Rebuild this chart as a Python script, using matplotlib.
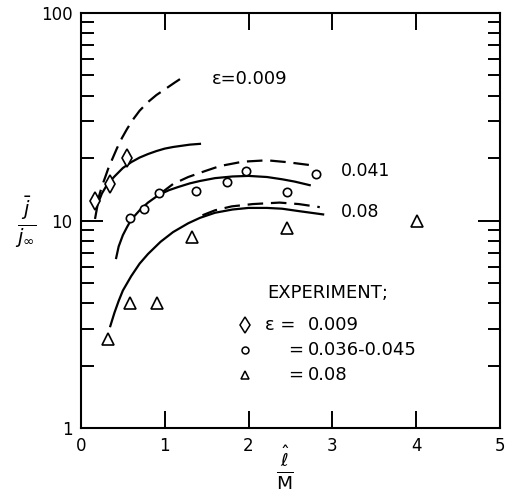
import numpy as np
import matplotlib
matplotlib.use('Agg')
import matplotlib.pyplot as plt
from matplotlib.ticker import LogLocator, NullFormatter, FixedLocator

# courbes théoriques
x_009_solid = [0.17, 0.20, 0.25, 0.30, 0.35, 0.40, 0.50, 0.60, 0.70, 0.80, 0.90, 1.00, 1.10, 1.20, 1.30, 1.42]
y_009_solid = [10.3, 12.0, 13.5, 14.6, 15.5, 16.3, 17.9, 19.1, 20.1, 20.9, 21.6, 22.2, 22.6, 22.9, 23.2, 23.4]
x_009_dash = [0.19, 0.22, 0.25, 0.29, 0.33, 0.37, 0.43, 0.49, 0.55, 0.62, 0.70, 0.80, 0.90, 1.00, 1.12, 1.24]
y_009_dash = [11.9, 13.3, 14.6, 16.2, 18.0, 19.6, 22.3, 25.0, 27.6, 30.6, 33.8, 37.2, 40.2, 42.8, 46.2, 49.7]

x_041_solid = [0.42, 0.45, 0.50, 0.55, 0.60, 0.70, 0.80, 0.93, 1.05, 1.16, 1.30, 1.42, 1.60, 1.81, 2.00, 2.22, 2.40, 2.55, 2.73]
y_041_solid = [6.6, 7.5, 8.5, 9.3, 10.1, 11.2, 12.2, 13.3, 14.0, 14.5, 15.1, 15.5, 16.0, 16.3, 16.4, 16.2, 15.8, 15.4, 14.8]
x_041_dash = [0.95, 1.10, 1.28, 1.48, 1.66, 1.93, 2.22, 2.46, 2.73]
y_041_dash = [13.5, 15.0, 16.2, 17.3, 18.3, 19.2, 19.5, 19.1, 18.5]

x_08_solid = [0.35, 0.40, 0.45, 0.50, 0.60, 0.70, 0.80, 0.95, 1.10, 1.28, 1.42, 1.60, 1.81, 2.00, 2.22, 2.40, 2.60, 2.89]
y_08_solid = [3.1, 3.6, 4.1, 4.6, 5.4, 6.2, 6.9, 7.9, 8.8, 9.7, 10.3, 10.9, 11.3, 11.5, 11.5, 11.4, 11.1, 10.7]
x_08_dash = [1.45, 1.60, 1.80, 2.05, 2.37, 2.60, 2.85]
y_08_dash = [10.6, 11.2, 11.7, 12.0, 12.2, 12.0, 11.6]

# points expérimentaux
x_diam = [0.17, 0.35, 0.55]
y_diam = [12.4, 15.0, 20.0]
x_circ = [0.58, 0.75, 0.93, 1.37, 1.74, 1.97, 2.46, 2.80]
y_circ = [10.3, 11.4, 13.6, 13.9, 15.3, 17.3, 13.7, 16.7]
x_tri = [0.32, 0.58, 0.91, 1.33, 2.46, 4.01]
y_tri = [2.7, 4.0, 4.0, 8.3, 9.2, 10.0]

fig = plt.figure(figsize=(5.06, 4.95), dpi=100)
ax = fig.add_axes([0.160, 0.135, 0.828, 0.839])

lw = 1.6
dash = (0, (7, 3.5))
ax.plot(x_009_solid, y_009_solid, 'k-', lw=lw)
ax.plot(x_009_dash, y_009_dash, 'k', lw=lw, linestyle=dash)
ax.plot(x_041_solid, y_041_solid, 'k-', lw=lw)
ax.plot(x_041_dash, y_041_dash, 'k', lw=lw, linestyle=dash)
ax.plot(x_08_solid, y_08_solid, 'k-', lw=lw)
ax.plot(x_08_dash, y_08_dash, 'k', lw=lw, linestyle=dash)

ax.plot(x_diam, y_diam, 'd', mfc='white', mec='k', ms=9, mew=1.2)
ax.plot(x_circ, y_circ, 'o', mfc='white', mec='k', ms=6, mew=1.2)
ax.plot(x_tri, y_tri, '^', mfc='white', mec='k', ms=8, mew=1.2)

ax.set_yscale('log')
ax.set_xlim(0, 5)
ax.set_ylim(1, 100)
ax.yaxis.set_major_locator(FixedLocator([1, 10, 100]))
ax.set_yticklabels(['1', '10', '100'])
ax.yaxis.set_minor_locator(LogLocator(base=10, subs=np.arange(2, 10)))
ax.yaxis.set_minor_formatter(NullFormatter())
ax.set_xticks([0, 1, 2, 3, 4, 5])
ax.set_xticklabels(['0', '1', '2', '3', '4', '5'])

ax.tick_params(axis='both', which='both', direction='in', top=True, right=True,
               labelsize=12, width=1.4)
ax.tick_params(axis='x', which='major', length=12, pad=6)
ax.tick_params(axis='y', which='major', length=16, pad=6)
ax.tick_params(axis='y', which='minor', length=9)
for s in ax.spines.values():
    s.set_linewidth(1.5)

ax.text(1.56, 48, 'ε=0.009', fontsize=13, va='center')
ax.text(3.1, 17.3, '0.041', fontsize=12.5, va='center')
ax.text(3.1, 11.0, '0.08', fontsize=12.5, va='center')

# légende "EXPERIMENT"
fs = 13
ax.text(2.22, 4.47, 'EXPERIMENT;', fontsize=fs, va='center')
ax.plot([1.96], [3.14], 'd', mfc='white', mec='k', ms=8, mew=1.1)
ax.plot([1.96], [2.38], 'o', mfc='white', mec='k', ms=5, mew=1.1)
ax.plot([1.96], [1.80], '^', mfc='white', mec='k', ms=6, mew=1.1)
ax.text(2.2, 3.14, 'ε =', fontsize=fs, va='center')
ax.text(2.71, 3.14, '0.009', fontsize=fs, va='center')
ax.text(2.47, 2.38, '=', fontsize=fs, va='center')
ax.text(2.71, 2.38, '0.036-0.045', fontsize=fs, va='center')
ax.text(2.47, 1.80, '=', fontsize=fs, va='center')
ax.text(2.71, 1.80, '0.08', fontsize=fs, va='center')

fig.text(0.05, 0.55, r'$\frac{\bar{j}}{j_\infty}$', fontsize=20, ha='center', va='center')
fig.text(0.563, 0.055, r'$\frac{\hat{\ell}}{\mathrm{M}}$', fontsize=19, ha='center', va='center')

fig.savefig('out.png', dpi=100)
